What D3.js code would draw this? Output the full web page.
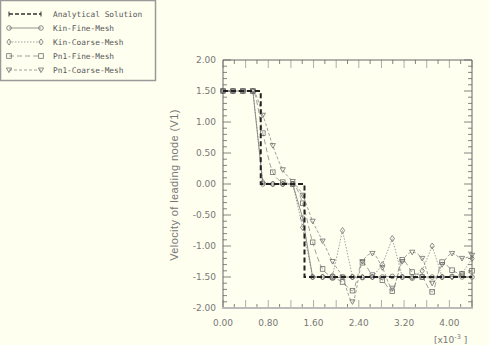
<!DOCTYPE html>
<html><head><meta charset="utf-8">
<script src="https://cdn.jsdelivr.net/npm/d3@7"></script>
<style>
html,body{margin:0;padding:0;background:#fffff0;}
svg{display:block;}
</style></head>
<body>
<svg id="chart" width="489" height="345"></svg>
<script>
// ---- data (time in units of 1e-3) ----
const time = [0,0.176,0.352,0.528,0.704,0.88,1.056,1.232,1.408,1.584,1.76,1.936,2.112,2.288,2.464,2.64,2.816,2.992,3.168,3.344,3.52,3.696,3.872,4.048,4.224,4.4];
const analyticalT = [0, 0.667, 0.667, 1.44, 1.44, 4.4];
const analyticalV = [1.5, 1.5, 0, 0, -1.5, -1.5];
const kinFine   = [1.5,1.5,1.5,1.5,0.0,0.0,0.0,0.0,-0.55,-1.5,-1.5,-1.52,-1.5,-1.5,-1.51,-1.5,-1.5,-1.49,-1.5,-1.52,-1.5,-1.5,-1.5,-1.49,-1.5,-1.5];
const kinCoarse = [1.5,1.5,1.5,1.5,0.03,0.0,0.0,0.0,-0.7,-1.5,-1.5,-1.48,-0.75,-1.5,-1.5,-1.5,-1.3,-0.88,-1.5,-1.5,-1.4,-1.0,-1.5,-1.5,-1.45,-1.2];
const pn1Fine   = [1.5,1.5,1.5,1.5,0.82,0.19,0.03,0.0,-0.31,-0.94,-1.37,-1.5,-1.58,-1.72,-1.27,-1.47,-1.55,-1.73,-1.22,-1.42,-1.5,-1.74,-1.26,-1.39,-1.45,-1.4];
const pn1Coarse = [1.5,1.5,1.5,1.5,1.11,0.62,0.23,0.04,-0.18,-0.6,-0.92,-1.25,-1.5,-1.9,-1.25,-1.12,-1.35,-1.68,-1.25,-1.1,-1.2,-1.6,-1.3,-1.12,-1.2,-1.15];
const seriesNames = ["Analytical Solution","Kin-Fine-Mesh","Kin-Coarse-Mesh","Pn1-Fine-Mesh","Pn1-Coarse-Mesh"];
const yTickLabels = ["-2.00","-1.50","-1.00","-0.50","0.00","0.50","1.00","1.50","2.00"];
const yTickValues = [-2,-1.5,-1,-0.5,0,0.5,1,1.5,2];
const xTickLabels = ["0.00","0.80","1.60","2.40","3.20","4.00"];
const xTickValues = [0,0.8,1.6,2.4,3.2,4.0];
const yTitle = "Velocity of leading node (V1)";

// ---- layout ----
const svg = d3.select("#chart");
const L = 223, R = 472, T = 60, B = 308;
const x = d3.scaleLinear().domain([0, 4.4]).range([L, R]);
const y = d3.scaleLinear().domain([-2, 2]).range([B, T]);

svg.append("rect").attr("width",489).attr("height",345).attr("fill","#fffff0");

// ---- ticks ----
const g = svg.append("g");
const yMinor = d3.range(-20, 21).map(i => i/10);
yMinor.forEach(v => {
  const major = Math.abs(v*2 - Math.round(v*2)) < 1e-6;
  const len = major ? 8 : 4;
  g.append("line").attr("x1",L).attr("x2",L+len).attr("y1",y(v)).attr("y2",y(v)).attr("stroke","#666").attr("stroke-width",0.8);
  g.append("line").attr("x1",R).attr("x2",R-len).attr("y1",y(v)).attr("y2",y(v)).attr("stroke","#666").attr("stroke-width",0.8);
});
const xMinor = d3.range(0, 23).map(i => i*0.2);
xMinor.forEach(v => {
  const major = (Math.round(v*10) % 4) === 0;
  const len = major ? 8 : 4;
  const col = major ? "#999" : "#666";
  g.append("line").attr("x1",x(v)).attr("x2",x(v)).attr("y1",B).attr("y2",B-len).attr("stroke",col).attr("stroke-width",0.8);
  g.append("line").attr("x1",x(v)).attr("x2",x(v)).attr("y1",T).attr("y2",T+len).attr("stroke",col).attr("stroke-width",0.8);
});
// frame
g.append("line").attr("x1",L).attr("x2",R).attr("y1",T).attr("y2",T).attr("stroke","#666").attr("stroke-width",1);
g.append("line").attr("x1",R).attr("x2",R).attr("y1",T).attr("y2",B).attr("stroke","#666").attr("stroke-width",1);
g.append("line").attr("x1",L).attr("x2",L).attr("y1",T).attr("y2",B).attr("stroke","#666").attr("stroke-width",1);
g.append("line").attr("x1",L-1).attr("x2",R+1).attr("y1",B).attr("y2",B).attr("stroke","#bbb").attr("stroke-width",2.2);

// tick labels
const lblFont = "'DejaVu Sans', sans-serif";
yTickValues.forEach((v,i) => {
  svg.append("text").attr("x",216).attr("y",y(v)+3.3).attr("text-anchor","end")
    .attr("font-family",lblFont).attr("font-size","9px").attr("fill","#777").text(yTickLabels[i]);
});
xTickValues.forEach((v,i) => {
  svg.append("text").attr("x",x(v)).attr("y",326).attr("text-anchor","middle")
    .attr("font-family",lblFont).attr("font-size","9px").attr("fill","#777").text(xTickLabels[i]);
});
const ex = svg.append("text").attr("x",434).attr("y",343).attr("font-family",lblFont).attr("font-size","9px").attr("fill","#777");
ex.append("tspan").text("[x10");
ex.append("tspan").attr("dy",-4).attr("font-size","6.5px").text("-3");
ex.append("tspan").attr("dy",4).text(" ]");

svg.append("text").attr("transform","translate(178,185) rotate(-90)").attr("text-anchor","middle")
  .attr("font-family","'Liberation Sans', Arial, sans-serif").attr("font-size","11px").attr("letter-spacing","0.4px")
  .attr("fill","#777").text(yTitle);

// ---- series ----
const styles = [
  {dash:"5,3", w:2, col:"#222", marker:null},
  {dash:null, w:0.8, col:"#777", marker:"circle"},
  {dash:"1.5,1.5", w:0.8, col:"#888", marker:"diamond"},
  {dash:"5,3", w:0.8, col:"#888", marker:"square"},
  {dash:"3,2", w:0.8, col:"#888", marker:"triangle"}
];
const numeric = [kinFine, kinCoarse, pn1Fine, pn1Coarse];
const plot = svg.append("g");

function drawMarker(sel, type, cx, cy, col) {
  if (type === "circle") sel.append("circle").attr("cx",cx).attr("cy",cy).attr("r",2.3).attr("fill","none").attr("stroke",col).attr("stroke-width",0.75);
  else if (type === "diamond") sel.append("path").attr("d",`M${cx},${cy-3}L${cx+2.2},${cy}L${cx},${cy+3}L${cx-2.2},${cy}Z`).attr("fill","none").attr("stroke",col).attr("stroke-width",0.75);
  else if (type === "square") sel.append("rect").attr("x",cx-2.3).attr("y",cy-2.3).attr("width",4.6).attr("height",4.6).attr("fill","none").attr("stroke",col).attr("stroke-width",0.75);
  else if (type === "triangle") sel.append("path").attr("d",`M${cx-2.6},${cy-2}L${cx+2.6},${cy-2}L${cx},${cy+2.6}Z`).attr("fill","none").attr("stroke",col).attr("stroke-width",0.75);
}

const lineCurve = d3.line().x(d => x(d[0])).y(d => y(d[1])).curve(d3.curveMonotoneX);
const lineLin = d3.line().x(d => x(d[0])).y(d => y(d[1]));

[3,4,2,1].forEach(si => {
  const vals = numeric[si-1];
  const pts = time.map((t,i) => [t, vals[i]]);
  const st = styles[si];
  const p = plot.append("path").attr("d", (si===1||si===2) ? lineLin(pts) : lineCurve(pts))
    .attr("fill","none").attr("stroke",st.col).attr("stroke-width",st.w);
  if (st.dash) p.attr("stroke-dasharray",st.dash);
  pts.forEach(d => drawMarker(plot, st.marker, x(d[0]), y(d[1]), "#666"));
});
plot.append("path").attr("d", lineLin(analyticalT.map((t,i)=>[t,analyticalV[i]])))
  .attr("fill","none").attr("stroke","#222").attr("stroke-width",2).attr("stroke-dasharray","5,3");

// ---- legend ----
const lg = svg.append("g");
lg.append("rect").attr("x",0.5).attr("y",0.5).attr("width",155).attr("height",80)
  .attr("fill","#fffff0").attr("stroke","#999").attr("stroke-width",1.5);
seriesNames.forEach((name,i) => {
  const yy = 14 + i*14;
  const st = styles[i];
  const ln = lg.append("line").attr("x1",9).attr("x2",41).attr("y1",yy).attr("y2",yy)
    .attr("stroke", i===0 ? "#333" : st.col).attr("stroke-width", i===0 ? 1.4 : 0.8);
  if (st.dash) ln.attr("stroke-dasharray", i===0 ? "4,2" : st.dash);
  if (i===0) {
    lg.append("line").attr("x1",9).attr("x2",9).attr("y1",yy-2.5).attr("y2",yy+2.5).attr("stroke","#333");
    lg.append("line").attr("x1",41).attr("x2",41).attr("y1",yy-2.5).attr("y2",yy+2.5).attr("stroke","#333");
  } else {
    drawMarker(lg, st.marker, 9, yy, "#666");
    drawMarker(lg, st.marker, 41, yy, "#666");
  }
  lg.append("text").attr("x",53).attr("y",yy+2.8).attr("font-family","'DejaVu Sans Mono', monospace")
    .attr("font-size","7.8px").attr("fill","#555").text(name);
});
</script>
</body></html>
